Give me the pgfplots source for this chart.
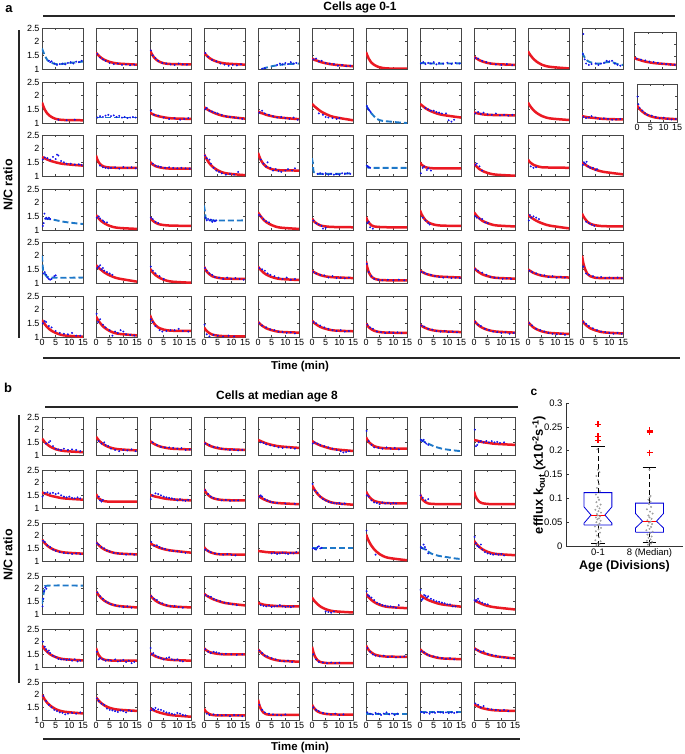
\documentclass[border=0pt]{standalone}
\usepackage{fontspec}
\setmainfont{Liberation Sans}
\usepackage{pgfplots}
\pgfplotsset{compat=1.18}
\definecolor{fitred}{RGB}{235,25,35}
\definecolor{dotblue}{RGB}{20,20,235}
\definecolor{dashcyan}{RGB}{30,120,200}
\definecolor{framegray}{RGB}{70,70,70}
\pgfplotsset{
 panel/.style={scale only axis, anchor=north west, xmin=0,xmax=15,ymin=1,ymax=2.5,
  xtick={0,5,10,15}, ytick={1,1.5,2,2.5}, xticklabels={}, yticklabels={},
  tick align=inside, major tick length=2bp,
  axis line style={framegray,line width=0.75bp},
  every tick/.style={framegray,line width=0.4bp},
  /pgf/number format/assume math mode=true,
  tick label style={font=\fontsize{9}{9}\selectfont},
  yticklabel style={xshift=1bp}, xticklabel style={yshift=1bp},
  clip=true},
 yl/.style={yticklabels={1,1.5,2,2.5}},
 xl/.style={xticklabels={0,5,10,15}},
}
\newcommand{\Rf}[8]{\addplot[fitred,line width=2.5bp,smooth] coordinates {(0,#1)(0.5,#2)(1,#3)(2,#4)(3,#5)(5,#6)(8,#7)(15,#8)};}
\newcommand{\Dt}[1]{\addplot[only marks,mark=*,mark size=0.75bp,dotblue] coordinates {#1};}
\newcommand{\Cy}[1]{\addplot[dashcyan,line width=1.9bp,dash pattern=on 6bp off 3bp,smooth] coordinates {#1};}
\newcommand{\Pa}[4]{\begin{axis}[panel,at={(#1bp,-#2bp)},width=41bp,height=41bp,#3]#4\end{axis}}
\newcommand{\Pb}[4]{\begin{axis}[panel,at={(#1bp,-#2bp)},width=41bp,height=38bp,#3]#4\end{axis}}
\begin{document}
\begin{tikzpicture}
\useasboundingbox (0,0) rectangle (685bp,-754bp);
% ================= panel a =================
\node[font=\bfseries\fontsize{13}{13}\selectfont] at (9bp,-9bp) {a};
\node[font=\bfseries\fontsize{12}{12}\selectfont] at (360bp,-7bp) {Cells age 0-1};
\draw[line width=1.5bp,black!85] (43bp,-16bp) -- (675bp,-16bp);
\draw[line width=1.5bp,black!85] (19bp,-30bp) -- (19bp,-338bp);
\node[rotate=90,font=\bfseries\fontsize{12.5}{12.5}\selectfont] at (8bp,-185bp) {N/C ratio};
\draw[line width=1.5bp,black!85] (43bp,-358bp) -- (680bp,-358bp);
\node[font=\bfseries\fontsize{11.5}{11.5}\selectfont] at (300bp,-367bp) {Time (min)};
% row 1
\Pa{42}{28}{yl}{\Cy{(0,1.75)(0.5,1.62)(1,1.5)(2,1.32)(3,1.25)(5,1.18)(7,1.18)(10,1.22)(15,1.27)}\Dt{(2.5,1.3)(3,1.25)(3.5,1.28)(4.5,1.2)(5.5,1.15)(6.5,1.18)(7.5,1.2)(8.5,1.17)(9.5,1.22)(10.5,1.25)(11.5,1.2)(12.5,1.27)(13.5,1.25)(14.5,1.3)}}
\Pa{96}{28}{}{\Rf{1.6}{1.54}{1.49}{1.40}{1.34}{1.26}{1.20}{1.16}\Dt{(0.5,1.55)(1.5,1.42)(2.5,1.35)(3.5,1.3)(5,1.22)(6.5,1.18)(8,1.2)(9.5,1.15)(11,1.17)(12.5,1.14)(14,1.16)}}
\Pa{150}{28}{}{\Rf{1.7}{1.58}{1.49}{1.37}{1.29}{1.21}{1.18}{1.17}\Dt{(0.3,1.68)(1,1.5)(2,1.4)(3,1.3)(4.5,1.22)(6,1.2)(7.5,1.17)(9,1.15)(10.5,1.2)(12,1.17)(13.5,1.16)}}
\Pa{204}{28}{}{\Rf{1.6}{1.54}{1.49}{1.40}{1.34}{1.26}{1.20}{1.16}\Dt{(0.5,1.58)(1.5,1.45)(3,1.33)(4.5,1.28)(6,1.2)(7.5,1.16)(9,1.12)(10.5,1.15)(12,1.13)(13.5,1.17)}}
\Pa{258}{28}{}{\Cy{(1.5,1.0)(3,1.05)(5,1.1)(8,1.15)(11,1.18)(15,1.2)}\Dt{(1.5,1.01)(2.5,1.03)(7,1.15)(8,1.2)(9,1.17)(10,1.22)(11,1.18)(12,1.25)(13,1.2)(14,1.22)}}
\Pa{312}{28}{}{\Rf{1.38}{1.36}{1.33}{1.30}{1.26}{1.21}{1.16}{1.10}\Dt{(0.5,1.35)(1.5,1.38)(2.5,1.28)(3.5,1.3)(5,1.22)(6.5,1.2)(8,1.18)(9.5,1.12)(11,1.15)(12.5,1.1)(14,1.12)}}
\Pa{366}{28}{}{\Rf{1.62}{1.49}{1.38}{1.23}{1.15}{1.06}{1.02}{1.01}}
\Pa{420}{28}{}{\Cy{(0,1.22)(5,1.2)(10,1.2)(15,1.21)}\Dt{(0.3,1.2)(1.2,1.25)(2,1.18)(3,1.22)(4,1.2)(5,1.25)(6,1.17)(7,1.22)(8.5,1.2)(10,1.23)(11.5,1.19)(13,1.22)(14.5,1.2)}}
\Pa{474}{28}{}{\Rf{1.45}{1.41}{1.38}{1.32}{1.28}{1.22}{1.18}{1.15}\Dt{(0.5,1.4)(1.5,1.38)(3,1.3)(4.5,1.25)(6,1.2)(8,1.17)(10,1.15)(12,1.18)(14,1.14)}}
\Pa{528}{28}{}{\Rf{1.65}{1.56}{1.49}{1.37}{1.28}{1.16}{1.08}{1.02}}
\Pa{582}{28}{}{\Cy{(0,1.6)(0.5,1.5)(1,1.42)(2,1.3)(3,1.25)(5,1.2)(7,1.2)(9,1.25)(11,1.25)(13,1.18)(15,1.15)}\Dt{(0.5,2.28)(0.3,1.55)(1,1.35)(1.5,1.2)(2.5,1.15)(3.5,1.18)(5,1.2)(6,1.15)(7,1.2)(8,1.22)(9,1.3)(10,1.28)(11,1.3)(12,1.2)(13,1.15)(14,1.12)}}
\begin{axis}[panel,at={(634bp,-32bp)},width=42bp,height=37bp]
\Rf{1.45}{1.43}{1.40}{1.37}{1.33}{1.28}{1.23}{1.17}\Dt{(1,1.42)(2.5,1.38)(4,1.35)(5.5,1.3)(7,1.28)(8.5,1.25)(10,1.22)(11.5,1.2)(13,1.18)(14.5,1.17)}
\end{axis}
% row 2
\Pa{42}{82}{yl}{\Rf{1.75}{1.61}{1.49}{1.34}{1.25}{1.15}{1.11}{1.10}\Dt{(6,1.12)(9,1.1)(12,1.12)}}
\Pa{96}{82}{}{\Cy{(0,1.2)(15,1.2)}\Dt{(0.5,1.2)(1.5,1.25)(2.5,1.22)(3.5,1.27)(4.5,1.3)(5.5,1.25)(6.5,1.28)(7.5,1.22)(8.5,1.26)(9.5,1.2)(10.5,1.22)(11.5,1.18)(12.5,1.2)(13.5,1.22)(14.5,1.2)}}
\Pa{150}{82}{}{\Rf{1.38}{1.35}{1.32}{1.28}{1.25}{1.21}{1.17}{1.15}\Dt{(0.3,1.45)(1.5,1.3)(3,1.27)(5,1.2)(7,1.15)(9,1.17)(11,1.12)(12.5,1.15)(14,1.18)}}
\Pa{204}{82}{}{\Rf{1.58}{1.54}{1.51}{1.45}{1.40}{1.32}{1.24}{1.16}\Dt{(0.5,1.5)(1,1.55)(2,1.45)(3,1.42)(4,1.38)(5,1.35)(6.5,1.3)(8,1.25)(9.5,1.22)(11,1.2)(12.5,1.18)(14,1.15)}}
\Pa{258}{82}{}{\Rf{1.42}{1.40}{1.37}{1.34}{1.30}{1.25}{1.20}{1.14}\Dt{(0.5,1.38)(1.5,1.45)(2.5,1.35)(4,1.3)(5.5,1.25)(7,1.2)(8.5,1.22)(10,1.18)(11.5,1.15)(13,1.2)(14.5,1.12)}}
\Pa{312}{82}{}{\Rf{1.7}{1.65}{1.60}{1.52}{1.44}{1.33}{1.22}{1.10}\Dt{(2.5,1.35)(4,1.3)(5,1.22)(6,1.2)(7.5,1.18)(9,1.15)(10,1.18)}}
\Pa{366}{82}{}{\Cy{(0,1.65)(1,1.48)(2,1.35)(4,1.15)(6,1.08)(9,1.05)(12,1.02)(15,1.0)}\Dt{(0.3,1.62)(0.6,1.55)(1,1.5)(1.3,1.45)(1.7,1.4)}}
\Pa{420}{82}{}{\Rf{1.7}{1.66}{1.62}{1.54}{1.48}{1.39}{1.30}{1.20}\Dt{(2,1.55)(3,1.5)(4,1.45)(5,1.45)(6,1.4)(7,1.38)(8,1.35)(9.5,1.35)(10.5,1.1)(11.5,1.05)(12.5,1.12)}}
\Pa{474}{82}{}{\Rf{1.38}{1.37}{1.36}{1.34}{1.32}{1.30}{1.29}{1.28}\Dt{(0.5,1.35)(1.5,1.4)(2.5,1.33)(3.5,1.38)(5,1.32)(6.5,1.3)(8,1.35)(9.5,1.28)(11,1.3)(12.5,1.27)(14,1.3)}}
\Pa{528}{82}{}{\Rf{1.75}{1.66}{1.59}{1.47}{1.38}{1.26}{1.17}{1.11}}
\Pa{582}{82}{}{\Rf{1.25}{1.24}{1.23}{1.21}{1.20}{1.18}{1.15}{1.13}\Dt{(0.5,1.22)(1.5,1.18)(2.5,1.2)(3.5,1.25)(5,1.2)(6.5,1.15)(8,1.17)(9.5,1.15)(11,1.12)(12.5,1.13)(14,1.15)}}
\begin{axis}[panel,xl,at={(637bp,-84bp)},width=40bp,height=38bp]
\Rf{1.65}{1.58}{1.51}{1.41}{1.33}{1.23}{1.16}{1.11}\Dt{(0.2,2.0)(0.5,1.7)(1,1.55)(2,1.45)(3,1.35)(4,1.28)(5.5,1.25)(7,1.2)(8.5,1.15)(10,1.17)(11.5,1.12)(13,1.1)(14.5,1.12)}
\end{axis}
% row 3
\Pa{42}{135}{yl}{\Rf{1.70}{1.67}{1.65}{1.60}{1.56}{1.50}{1.44}{1.38}\Dt{(0.3,1.6)(1,1.68)(2,1.65)(3,1.6)(4,1.7)(5,1.62)(5.5,1.78)(6,1.75)(7,1.55)(8,1.5)(9,1.45)(10.5,1.45)(12,1.42)(13.5,1.43)(14.5,1.4)}}
\Pa{96}{135}{}{\Rf{1.75}{1.60}{1.50}{1.39}{1.34}{1.31}{1.30}{1.30}\Dt{(1.5,1.38)(2.5,1.32)(3.5,1.3)(4.5,1.28)(5.5,1.3)(7,1.32)(8.5,1.27)(10,1.33)(11.5,1.3)(13,1.32)(14.5,1.28)}}
\Pa{150}{135}{}{\Rf{1.52}{1.46}{1.42}{1.36}{1.33}{1.29}{1.27}{1.27}\Dt{(1,1.45)(2,1.38)(3,1.35)(4,1.33)(5.5,1.3)(7,1.32)(8.5,1.3)(10,1.28)(11.5,1.3)(13,1.28)(14.5,1.27)}}
\Pa{204}{135}{}{\Rf{1.8}{1.70}{1.61}{1.46}{1.35}{1.21}{1.10}{1.03}\Dt{(0.3,1.75)(1,1.65)(2,1.6)(2.5,1.45)(3.5,1.3)(4.5,1.2)(5.5,1.15)(6.5,1.1)(8,1.05)(9.5,1.08)(11,1.05)(12.5,1.15)}}
\Pa{258}{135}{}{\Rf{1.85}{1.71}{1.59}{1.44}{1.34}{1.25}{1.21}{1.20}\Dt{(1,1.6)(2,1.45)(3,1.35)(3.5,1.5)(4.5,1.3)(5.5,1.2)(6.5,1.25)(7.5,1.18)(8.5,1.15)(10,1.2)(11,1.25)(12.5,1.2)(13.5,1.28)}}
\Pa{312}{135}{}{\Cy{(0,1.65)(0.3,1.45)(0.6,1.15)(1.5,1.08)(5,1.08)(10,1.08)(15,1.1)}\Dt{(2,1.08)(3,1.1)(4,1.07)(5,1.1)(6,1.05)(7,1.08)(8,1.05)(9,1.07)(10,1.05)(11,1.1)(12,1.08)(13,1.1)(14,1.08)}}
\Pa{366}{135}{}{\Cy{(0,1.38)(1,1.32)(2,1.3)(15,1.3)}\Dt{(0.3,1.38)(0.7,1.35)(1,1.32)(1.5,1.3)}}
\Pa{420}{135}{}{\Rf{1.5}{1.42}{1.38}{1.32}{1.30}{1.28}{1.28}{1.28}\Dt{(0.3,1.1)(1,1.3)(1.5,1.35)(2.5,1.22)(3,1.28)(4,1.2)}}
\Pa{474}{135}{}{\Rf{1.45}{1.39}{1.34}{1.25}{1.19}{1.11}{1.05}{1.01}\Dt{(0.5,1.4)(1,1.45)(2,1.35)(3,1.2)}}
\Pa{528}{135}{}{\Rf{1.6}{1.53}{1.48}{1.41}{1.37}{1.32}{1.31}{1.30}\Dt{(1,1.35)(2,1.3)(3,1.32)}}
\Pa{582}{135}{}{\Rf{1.5}{1.46}{1.43}{1.36}{1.31}{1.23}{1.15}{1.06}\Dt{(0.3,1.4)(0.7,1.5)(1.2,1.45)(1.7,1.52)(2.3,1.35)(3,1.3)(4,1.3)(5,1.22)(5.5,1.25)}}
% row 4
\Pa{42}{189}{yl}{\Cy{(1,1.42)(4,1.38)(8,1.3)(12,1.25)(15,1.22)}\Dt{(0.3,1.15)(0.6,1.25)(0.9,1.6)(1.2,1.42)(1.6,1.45)(2,1.4)(2.5,1.45)(3,1.4)}}
\Pa{96}{189}{}{\Rf{1.55}{1.48}{1.42}{1.32}{1.25}{1.15}{1.08}{1.04}\Dt{(0.3,1.45)(1,1.5)(1.5,1.42)(2.5,1.35)(3,1.3)(4,1.28)}}
\Pa{150}{189}{}{\Rf{1.47}{1.40}{1.34}{1.27}{1.22}{1.18}{1.16}{1.15}\Dt{(0.3,1.45)(1,1.4)(2,1.3)(3,1.25)}}
\Pa{204}{189}{}{\Cy{(0,1.9)(0.3,1.7)(0.6,1.45)(1,1.38)(3,1.35)(15,1.35)}\Dt{(0.5,1.45)(1,1.35)(1.5,1.4)(2,1.35)(2.5,1.38)(3,1.3)(3.5,1.35)(4,1.32)(4.5,1.35)}}
\Pa{258}{189}{}{\Rf{1.65}{1.57}{1.50}{1.38}{1.29}{1.18}{1.09}{1.04}\Dt{(0.3,1.55)(1,1.5)(2,1.4)(3,1.32)(4,1.28)}}
\Pa{312}{189}{}{\Rf{1.42}{1.35}{1.29}{1.22}{1.17}{1.13}{1.11}{1.10}\Dt{(0.5,1.35)(1.5,1.25)(2.5,1.2)(3.5,1.15)(4,1.05)(5,1.08)}}
\Pa{366}{189}{}{\Rf{1.48}{1.35}{1.27}{1.17}{1.13}{1.11}{1.10}{1.10}\Dt{(0.5,1.25)(1,1.3)(1.5,1.1)(2.5,1.05)}}
\Pa{420}{189}{}{\Rf{1.72}{1.59}{1.50}{1.36}{1.28}{1.20}{1.16}{1.15}\Dt{(1,1.45)(2,1.35)(3,1.25)(3.5,1.2)}}
\Pa{474}{189}{}{\Rf{1.65}{1.58}{1.52}{1.42}{1.34}{1.25}{1.17}{1.13}\Dt{(0.5,1.5)(1,1.45)(2,1.42)(3,1.4)(4,1.28)(5,1.25)}}
\Pa{528}{189}{}{\Rf{1.55}{1.51}{1.47}{1.40}{1.34}{1.25}{1.16}{1.06}\Dt{(0.3,1.35)(0.7,1.55)(1.2,1.45)(2,1.5)(3,1.45)(4,1.4)}}
\Pa{582}{189}{}{\Rf{1.6}{1.50}{1.42}{1.30}{1.23}{1.17}{1.14}{1.13}\Dt{(1.5,1.3)(2.5,1.25)(3.5,1.2)(4.5,1.15)}}
% row 5
\Pa{42}{242}{yl}{\Cy{(0,2.0)(0.2,1.7)(0.5,1.4)(1,1.35)(3,1.2)(15,1.2)}\Dt{(0.5,1.35)(1,1.4)(1.5,1.3)(2,1.2)(2.5,1.15)(3,1.12)(3.5,1.15)(4.5,1.25)(5,1.28)}}
\Pa{96}{242}{}{\Rf{1.65}{1.60}{1.55}{1.47}{1.39}{1.28}{1.17}{1.05}\Dt{(0.5,1.55)(1,1.6)(1.5,1.65)(2,1.5)(2.5,1.55)(3,1.45)(4,1.4)(5,1.35)(6,1.3)}}
\Pa{150}{242}{}{\Rf{1.52}{1.45}{1.39}{1.29}{1.22}{1.12}{1.05}{1.01}\Dt{(0.3,1.6)(1,1.45)(2,1.35)(3.5,1.25)(5,1.15)}}
\Pa{204}{242}{}{\Rf{1.6}{1.50}{1.42}{1.32}{1.25}{1.19}{1.16}{1.15}\Dt{(0.3,1.55)(1,1.45)(2,1.35)(3,1.3)(4,1.22)(5.5,1.2)(7,1.15)(8.5,1.2)(10,1.15)(11.5,1.18)(13,1.15)(14.5,1.12)}}
\Pa{258}{242}{}{\Rf{1.6}{1.53}{1.48}{1.38}{1.31}{1.22}{1.15}{1.11}\Dt{(0.5,1.55)(1.5,1.5)(2.5,1.45)(3.5,1.35)(4.5,1.3)(6,1.25)(7.5,1.2)(9,1.15)(10.5,1.2)(12,1.12)(13.5,1.15)}}
\Pa{312}{242}{}{\Rf{1.45}{1.41}{1.38}{1.33}{1.29}{1.24}{1.21}{1.18}\Dt{(0.5,1.4)(1.5,1.35)(3,1.3)(4.5,1.28)(6,1.2)(7.5,1.25)(9,1.18)(10.5,1.2)(12,1.17)(13.5,1.2)}}
\Pa{366}{242}{}{\Rf{1.8}{1.56}{1.40}{1.23}{1.16}{1.11}{1.10}{1.10}\Dt{(0.3,1.7)(1,1.4)(2,1.25)(3,1.15)(4.5,1.12)(6,1.1)(8,1.12)(10,1.1)(12,1.12)(14,1.1)}}
\Pa{420}{242}{}{\Rf{1.45}{1.42}{1.39}{1.34}{1.31}{1.26}{1.23}{1.20}\Dt{(0.5,1.4)(1.5,1.38)(2.5,1.33)(4,1.3)(5.5,1.25)(7,1.22)(8.5,1.2)(10,1.22)(11.5,1.18)(13,1.2)(14.5,1.18)}}
\Pa{474}{242}{}{\Rf{1.55}{1.50}{1.45}{1.38}{1.32}{1.25}{1.19}{1.16}\Dt{(0.5,1.5)(1.5,1.45)(3,1.38)(4.5,1.3)(6,1.22)(7.5,1.2)(9,1.18)(10.5,1.15)(12,1.17)(13.5,1.15)}}
\Pa{528}{242}{}{\Rf{1.5}{1.46}{1.43}{1.37}{1.33}{1.27}{1.23}{1.20}\Dt{(0.5,1.45)(1.5,1.4)(3,1.35)(4.5,1.3)(6,1.28)(7.5,1.22)(9,1.25)(10.5,1.2)(12,1.22)(13.5,1.2)}}
\Pa{582}{242}{}{\Rf{2.0}{1.72}{1.54}{1.33}{1.25}{1.19}{1.18}{1.18}\Dt{(0.5,1.6)(1.5,1.35)(2.5,1.3)(4,1.25)(5.5,1.2)(7,1.22)(8.5,1.18)(10,1.2)(11.5,1.18)(13,1.2)(14.5,1.17)}}
% row 6
\Pa{42}{296}{yl,xl}{\Rf{1.62}{1.54}{1.47}{1.35}{1.26}{1.15}{1.06}{1.01}\Dt{(0.3,1.5)(1,1.58)(1.5,1.55)(2.5,1.4)(3.5,1.35)(5,1.22)(6.5,1.15)(8,1.12)(9.5,1.1)(11,1.15)(12.5,1.05)(14,1.05)}}
\Pa{96}{296}{xl}{\Rf{1.75}{1.66}{1.58}{1.45}{1.35}{1.22}{1.12}{1.06}\Dt{(0.2,1.85)(0.8,1.55)(1.5,1.65)(2.5,1.45)(3.5,1.35)(5,1.25)(6,1.05)(7,1.2)(8,1.15)(9,1.25)(10,1.2)(11,1.1)(12.5,1.08)(14,1.05)}}
\Pa{150}{296}{xl}{\Rf{1.8}{1.67}{1.57}{1.43}{1.35}{1.27}{1.23}{1.22}\Dt{(0.3,1.65)(1,1.55)(2,1.4)(3.5,1.25)(4.5,1.2)(6,1.22)(7.5,1.25)(9,1.25)(10.5,1.3)(12,1.22)(14,1.2)}}
\Pa{204}{296}{xl}{\Rf{1.35}{1.28}{1.22}{1.14}{1.09}{1.05}{1.03}{1.02}\Dt{(0.2,1.45)(1,1.1)(2,1.02)(3.5,1.08)(5,1.05)(7,1.02)(9,1.05)(11,1.02)}}
\Pa{258}{296}{xl}{\Rf{1.55}{1.50}{1.45}{1.38}{1.32}{1.25}{1.19}{1.16}\Dt{(0.5,1.5)(1.5,1.42)(3,1.35)(4.5,1.28)(6,1.25)(7.5,1.2)(9,1.18)(10.5,1.15)(12,1.17)(13.5,1.13)}}
\Pa{312}{296}{xl}{\Rf{1.6}{1.55}{1.50}{1.43}{1.37}{1.30}{1.24}{1.21}\Dt{(0.5,1.55)(1.5,1.5)(3,1.42)(4.5,1.35)(6,1.3)(7.5,1.25)(9,1.22)(10.5,1.25)(12,1.2)(13.5,1.22)}}
\Pa{366}{296}{xl}{\Rf{1.5}{1.42}{1.36}{1.28}{1.23}{1.18}{1.16}{1.15}\Dt{(0.5,1.45)(1.5,1.35)(2.5,1.3)(4,1.2)(5.5,1.18)(7,1.15)(8.5,1.18)(10,1.15)(11.5,1.17)(13,1.14)}}
\Pa{420}{296}{xl}{\Rf{1.45}{1.41}{1.38}{1.33}{1.29}{1.24}{1.21}{1.18}\Dt{(0.5,1.42)(1.5,1.38)(3,1.3)(4.5,1.27)(6,1.22)(7.5,1.2)(9,1.22)(10.5,1.18)(12,1.2)(13.5,1.17)}}
\Pa{474}{296}{xl}{\Rf{1.6}{1.54}{1.49}{1.40}{1.34}{1.26}{1.20}{1.16}\Dt{(0.5,1.55)(1.5,1.45)(2.5,1.4)(4,1.3)(5.5,1.25)(7,1.2)(8.5,1.18)(10,1.15)(11.5,1.17)(13,1.12)(14.5,1.15)}}
\Pa{528}{296}{xl}{\Rf{1.55}{1.49}{1.44}{1.35}{1.29}{1.21}{1.15}{1.11}\Dt{(0.5,1.5)(1.5,1.42)(3,1.3)(4.5,1.25)(6,1.2)(7.5,1.15)(9,1.12)(10.5,1.1)(12,1.12)(13.5,1.08)}}
\Pa{582}{296}{xl}{\Rf{1.6}{1.54}{1.48}{1.39}{1.32}{1.24}{1.17}{1.13}\Dt{(0.5,1.55)(1.5,1.48)(2.5,1.4)(4,1.32)(5.5,1.25)(7,1.2)(8.5,1.18)(10,1.15)(11.5,1.12)(13,1.15)(14.5,1.12)}}
% ================= panel b =================
\node[font=\bfseries\fontsize{13}{13}\selectfont] at (8bp,-388bp) {b};
\node[font=\bfseries\fontsize{12}{12}\selectfont] at (277bp,-396bp) {Cells at median age 8};
\draw[line width=1.5bp,black!85] (45bp,-407bp) -- (518bp,-407bp);
\draw[line width=1.5bp,black!85] (19bp,-415bp) -- (19bp,-683bp);
\node[rotate=90,font=\bfseries\fontsize{12.5}{12.5}\selectfont] at (8bp,-555bp) {N/C ratio};
\draw[line width=1.5bp,black!85] (43bp,-739bp) -- (520bp,-739bp);
\node[font=\bfseries\fontsize{11.5}{11.5}\selectfont] at (300bp,-748bp) {Time (min)};
% row 1
\Pb{42}{417}{yl}{\Rf{1.65}{1.58}{1.51}{1.41}{1.33}{1.23}{1.16}{1.11}\Dt{(1.5,1.45)(2.5,1.5)(3,1.55)(4,1.35)(5,1.25)(6,1.22)(7,1.2)(8,1.25)(9.5,1.2)(11,1.22)(12.5,1.2)(14,1.15)}}
\Pb{96}{417}{}{\Rf{1.72}{1.65}{1.58}{1.48}{1.40}{1.30}{1.23}{1.18}\Dt{(1,1.55)(2,1.45)(3,1.5)(3.5,1.4)(4.5,1.35)(5.5,1.25)(7,1.2)(8.5,1.15)(10,1.2)(11.5,1.18)(13,1.22)(14.5,1.15)}}
\Pb{150}{417}{}{\Rf{1.55}{1.51}{1.47}{1.41}{1.36}{1.30}{1.25}{1.22}\Dt{(1,1.5)(2.5,1.4)(4,1.32)(5.5,1.3)(7,1.3)(8.5,1.28)(10,1.25)(11.5,1.27)(13,1.2)(14.5,1.22)}}
\Pb{204}{417}{}{\Rf{1.5}{1.46}{1.43}{1.37}{1.33}{1.27}{1.23}{1.20}\Dt{(0.5,1.45)(2,1.4)(3.5,1.32)(5,1.3)(6.5,1.25)(8,1.22)(9.5,1.2)(11,1.22)(12.5,1.18)(14,1.2)}}
\Pb{258}{417}{}{\Rf{1.6}{1.57}{1.55}{1.50}{1.46}{1.40}{1.34}{1.28}\Dt{(1,1.5)(2,1.48)(3,1.42)(4.5,1.38)(6,1.35)(7.5,1.3)(9,1.28)(10.5,1.3)(12,1.28)(13.5,1.25)}}
\Pb{312}{417}{}{\Rf{1.55}{1.52}{1.48}{1.43}{1.38}{1.31}{1.23}{1.16}\Dt{(0.3,1.45)(1,1.5)(2,1.45)(3,1.4)(4.5,1.35)(6,1.3)(7.5,1.25)(9,1.2)(10.5,1.15)(11.5,1.1)(12.5,1.12)(13.5,1.15)}}
\Pb{366}{417}{}{\Rf{1.7}{1.60}{1.52}{1.42}{1.35}{1.29}{1.26}{1.25}\Dt{(0.2,1.95)(1,1.55)(2,1.4)(3,1.3)(4.5,1.28)(6,1.25)(7.5,1.3)(9,1.25)(10.5,1.28)(12,1.22)}}
\Pb{420}{417}{}{\Cy{(0,1.62)(2,1.5)(5,1.35)(8,1.25)(11,1.2)(15,1.15)}\Dt{(0.3,1.6)(0.8,1.55)(1.3,1.6)(1.8,1.5)(2.3,1.45)(3,1.4)}}
\Pb{474}{417}{}{\Rf{1.6}{1.58}{1.57}{1.54}{1.51}{1.48}{1.44}{1.40}\Dt{(0.3,2.0)(0.7,1.35)(1.2,1.4)(1.7,1.5)(2.5,1.55)(3.5,1.5)(4.5,1.55)(5.5,1.5)(6.5,1.55)(7.5,1.5)(8.5,1.52)(9.5,1.48)(11,1.5)}}
% row 2
\Pb{42}{470}{yl}{\Rf{1.62}{1.59}{1.57}{1.53}{1.49}{1.44}{1.38}{1.33}\Dt{(0.2,1.45)(1,1.6)(2,1.62)(3,1.58)(4,1.6)(5,1.55)(6,1.58)(7,1.5)(8,1.45)(9,1.42)(10,1.45)(11,1.4)(12,1.38)(13,1.42)(14,1.38)}}
\Pb{96}{470}{}{\Rf{1.55}{1.45}{1.38}{1.31}{1.27}{1.25}{1.25}{1.25}\Dt{(1,1.45)(1.5,1.3)(2,1.25)(2.5,1.32)}}
\Pb{150}{470}{}{\Rf{1.52}{1.50}{1.48}{1.45}{1.43}{1.38}{1.34}{1.30}\Dt{(0.3,1.35)(1,1.5)(2,1.58)(3,1.55)(4,1.5)(5,1.45)(6,1.42)(7,1.4)(8,1.38)(9,1.35)(10,1.3)(11,1.35)(12,1.3)(13,1.28)(14,1.32)}}
\Pb{204}{470}{}{\Rf{1.75}{1.65}{1.57}{1.47}{1.40}{1.34}{1.31}{1.30}\Dt{(0.5,1.7)(1.5,1.55)(2.5,1.45)(3.5,1.4)(5,1.35)(6.5,1.3)(8,1.32)(9.5,1.28)(11,1.3)(12.5,1.3)}}
\Pb{258}{470}{}{\Rf{1.5}{1.45}{1.41}{1.35}{1.30}{1.23}{1.19}{1.15}\Dt{(0.5,1.45)(1,1.5)(1.5,1.45)(2.5,1.35)(3.5,1.3)(4.5,1.25)(5.5,1.22)(7,1.2)(10,1.18)(13.5,1.17)}}
\Pb{312}{470}{}{\Rf{1.9}{1.80}{1.71}{1.56}{1.45}{1.31}{1.20}{1.13}\Dt{(0.2,1.95)(1,1.7)(2,1.6)(3,1.45)(4,1.35)(5,1.3)(6,1.25)(7,1.22)(8,1.2)(9,1.18)(10,1.2)(11,1.15)(12,1.18)}}
\Pb{366}{470}{}{\Rf{1.65}{1.55}{1.47}{1.35}{1.28}{1.22}{1.19}{1.18}\Dt{(0.3,1.5)(1,1.45)(2,1.3)(3,1.22)(4,1.2)(5,1.15)(6,1.22)(7,1.18)(8,1.2)(9,1.17)(10,1.2)(11,1.18)}}
\Pb{420}{470}{}{\Rf{1.55}{1.41}{1.32}{1.23}{1.18}{1.16}{1.15}{1.15}\Dt{(0.2,1.5)(1,1.4)(2,1.3)(3,1.35)}}
\Pb{474}{470}{}{\Rf{1.65}{1.48}{1.37}{1.24}{1.19}{1.16}{1.15}{1.15}}
% row 3
\Pb{42}{523}{yl}{\Rf{1.85}{1.77}{1.71}{1.60}{1.52}{1.42}{1.34}{1.29}\Dt{(0.3,1.8)(1,1.75)(2,1.62)(3,1.55)(4,1.45)(5,1.4)(6.5,1.35)(8,1.32)(9.5,1.3)(11,1.28)(12.5,1.3)(14,1.27)}}
\Pb{96}{523}{}{\Rf{1.75}{1.68}{1.63}{1.53}{1.46}{1.37}{1.30}{1.26}\Dt{(0.3,1.7)(1,1.65)(2,1.55)(3,1.5)(4,1.42)(5,1.38)(6.5,1.32)(8,1.3)(9.5,1.28)(11,1.25)(12.5,1.28)(14,1.25)}}
\Pb{150}{523}{}{\Rf{1.7}{1.67}{1.64}{1.59}{1.54}{1.47}{1.41}{1.33}\Dt{(0.5,1.75)(1.5,1.6)(2.5,1.62)(3.5,1.55)(4.5,1.5)(5.5,1.48)(7,1.42)(8.5,1.4)(10,1.38)(11.5,1.35)(13,1.32)}}
\Pb{204}{523}{}{\Rf{1.55}{1.48}{1.43}{1.36}{1.32}{1.27}{1.26}{1.25}\Dt{(0.5,1.45)(1.5,1.4)(2.5,1.35)(4,1.3)(5.5,1.28)(7,1.25)(8.5,1.27)(10,1.25)(11.5,1.22)}}
\Pb{258}{523}{}{\Rf{1.4}{1.39}{1.38}{1.37}{1.35}{1.34}{1.33}{1.32}\Dt{(5,1.3)(6,1.32)(7,1.28)(8,1.3)(9,1.33)(10,1.3)(11,1.28)(12,1.32)(13,1.3)(14,1.35)}}
\Pb{312}{523}{}{\Cy{(0,1.5)(15,1.5)}\Dt{(0.3,1.5)(1,1.48)(1.5,1.45)(2,1.55)(2.5,1.58)(3,1.5)(3.5,1.52)}}
\Pb{366}{523}{}{\Rf{2.05}{1.91}{1.79}{1.60}{1.46}{1.27}{1.13}{1.03}\Dt{(0.2,2.2)(3.5,1.25)}}
\Pb{420}{523}{}{\Cy{(0,1.55)(2,1.45)(4,1.3)(7,1.2)(10,1.15)(13,1.1)(15,1.08)}\Dt{(0.3,1.55)(0.8,1.5)(1.3,1.65)(1.8,1.55)(2.2,1.45)(3,1.3)}}
\Pb{474}{523}{}{\Rf{1.8}{1.72}{1.66}{1.55}{1.47}{1.36}{1.28}{1.23}\Dt{(0.2,1.95)(0.7,1.7)(1.2,1.6)(1.8,1.55)(2.5,1.65)(3,1.45)(4,1.35)(5,1.3)(6,1.28)(7,1.25)(8,1.28)(9,1.25)(10,1.28)(11,1.22)}}
% row 4
\Pb{42}{576}{yl}{\Cy{(0,1.4)(0.5,1.75)(1,2.0)(2,2.12)(15,2.12)}\Dt{(0.2,1.3)(0.5,1.6)(0.8,1.9)(1.2,2.05)(1.6,2.0)}}
\Pb{96}{576}{}{\Rf{1.9}{1.81}{1.74}{1.62}{1.53}{1.41}{1.32}{1.26}\Dt{(0.5,1.85)(1.5,1.7)(2.5,1.6)(3.5,1.5)(4.5,1.45)(5.5,1.38)(7,1.35)(8.5,1.3)(10,1.28)(11.5,1.3)(13,1.25)}}
\Pb{150}{576}{}{\Rf{1.75}{1.68}{1.63}{1.53}{1.46}{1.37}{1.30}{1.26}\Dt{(0.5,1.7)(1.5,1.6)(2.5,1.55)(3.5,1.45)(4.5,1.42)(6,1.35)(7.5,1.3)(9,1.32)(10.5,1.28)(12,1.25)}}
\Pb{204}{576}{}{\Rf{1.8}{1.76}{1.72}{1.66}{1.60}{1.52}{1.43}{1.34}\Dt{(0.5,1.75)(1.5,1.7)(2.5,1.68)(3.5,1.6)(4.5,1.55)(6,1.5)(7.5,1.45)(9,1.42)(10.5,1.38)(12,1.35)}}
\Pb{258}{576}{}{\Rf{1.45}{1.42}{1.40}{1.37}{1.35}{1.33}{1.31}{1.30}\Dt{(1,1.35)(2,1.32)(3,1.3)(4,1.33)(5,1.28)(6,1.3)(7,1.32)(8,1.35)(9,1.3)(10,1.28)(11,1.3)(12,1.27)(13,1.3)}}
\Pb{312}{576}{}{\Rf{1.65}{1.57}{1.50}{1.39}{1.30}{1.19}{1.11}{1.06}\Dt{(5,1.1)(6,1.08)(7,1.05)(8,1.1)}}
\Pb{366}{576}{}{\Rf{1.8}{1.72}{1.66}{1.55}{1.47}{1.36}{1.28}{1.23}\Dt{(0.2,1.9)(0.7,1.75)(1.2,1.7)(2,1.65)(3,1.55)(4,1.45)(5,1.4)(6,1.35)(7,1.33)(8,1.3)(9,1.3)(10,1.28)(11,1.25)(12,1.35)}}
\Pb{420}{576}{}{\Rf{1.75}{1.71}{1.67}{1.61}{1.55}{1.47}{1.38}{1.29}\Dt{(0.2,1.95)(0.6,1.55)(1,1.6)(1.5,1.75)(2,1.72)(2.5,1.65)(3,1.7)(4,1.6)(5,1.55)(6,1.5)(7,1.48)(8,1.45)(9,1.42)(10,1.38)(11,1.38)(12,1.3)(13,1.3)}}
\Pb{474}{576}{}{\Rf{1.55}{1.52}{1.49}{1.44}{1.39}{1.32}{1.26}{1.18}\Dt{(0.2,1.55)(0.6,1.5)(1,1.55)(1.5,1.6)(2,1.5)(3,1.45)(4,1.4)(5,1.38)}}
% row 5
\Pb{42}{629}{yl}{\Rf{1.85}{1.77}{1.70}{1.59}{1.50}{1.39}{1.31}{1.26}\Dt{(0.3,2.0)(1,1.8)(1.5,1.7)(2,1.6)(2.5,1.65)(3,1.55)(4,1.45)(5,1.4)(6,1.32)(7,1.3)(8,1.3)(9,1.28)(10,1.3)(11,1.25)(12,1.3)(13,1.22)(14,1.25)}}
\Pb{96}{629}{}{\Rf{1.75}{1.58}{1.47}{1.34}{1.29}{1.26}{1.25}{1.25}\Dt{(0.3,1.6)(1,1.3)(1.5,1.35)(2.5,1.3)(3.5,1.25)(4.5,1.28)(5.5,1.25)(7,1.3)(8,1.22)(9,1.25)(10,1.28)(11,1.2)(12,1.25)(13,1.15)(14,1.2)}}
\Pb{150}{629}{}{\Rf{1.55}{1.51}{1.48}{1.42}{1.38}{1.32}{1.28}{1.25}\Dt{(0.2,1.75)(0.6,1.5)(1.2,1.55)(2,1.45)(3,1.4)(4,1.35)(5,1.3)(6,1.35)(7,1.38)(8,1.3)(9,1.28)(10,1.3)(11,1.25)(12,1.22)}}
\Pb{204}{629}{}{\Rf{1.75}{1.69}{1.65}{1.59}{1.56}{1.52}{1.50}{1.50}\Dt{(0.5,1.7)(1.5,1.6)(2.5,1.55)(3.5,1.6)(4.5,1.58)(5.5,1.55)(6.5,1.5)(8,1.52)(10,1.5)(12,1.48)(14,1.5)}}
\Pb{258}{629}{}{\Rf{1.7}{1.63}{1.58}{1.48}{1.41}{1.32}{1.25}{1.21}\Dt{(0.5,1.65)(1.5,1.55)(2.5,1.45)(3.5,1.42)(5,1.35)(6.5,1.3)(8,1.25)(9.5,1.22)(11,1.25)(12.5,1.2)}}
\Pb{312}{629}{}{\Rf{1.8}{1.58}{1.43}{1.27}{1.20}{1.16}{1.15}{1.15}\Dt{(0.5,1.5)(1.5,1.3)(2.5,1.2)(4,1.18)(5.5,1.15)(7,1.18)(8.5,1.15)(10,1.17)}}
\Pb{366}{629}{}{\Rf{1.85}{1.75}{1.67}{1.57}{1.50}{1.44}{1.41}{1.40}\Dt{(0.5,1.75)(1.5,1.6)(2.5,1.5)(3.5,1.45)(5,1.42)(6.5,1.45)(8,1.4)(9.5,1.42)(11,1.38)(12.5,1.4)(14,1.42)}}
\Pb{420}{629}{}{\Rf{1.7}{1.65}{1.60}{1.53}{1.47}{1.40}{1.34}{1.31}\Dt{(0.5,1.62)(1.5,1.58)(2.5,1.5)(3.5,1.45)(5,1.42)(6.5,1.38)(8,1.35)(9.5,1.32)(11,1.35)(12.5,1.3)}}
\Pb{474}{629}{}{\Rf{1.75}{1.71}{1.68}{1.62}{1.57}{1.50}{1.42}{1.34}\Dt{(0.5,1.7)(1.5,1.65)(2.5,1.6)(3.5,1.62)(5,1.52)(6.5,1.48)(8,1.45)(9.5,1.4)(11,1.38)(12.5,1.35)}}
% row 6
\Pb{42}{682}{yl,xl}{\Rf{2.0}{1.90}{1.81}{1.67}{1.57}{1.43}{1.33}{1.26}\Dt{(0.5,1.95)(1.5,1.75)(2.5,1.6)(3.5,1.5)(4.5,1.4)(5.5,1.35)(6.5,1.3)(7.5,1.28)(8.5,1.22)(9.5,1.25)(11,1.28)(12.5,1.25)(14,1.3)}}
\Pb{96}{682}{xl}{\Rf{1.9}{1.83}{1.76}{1.66}{1.58}{1.48}{1.41}{1.36}\Dt{(0.3,1.85)(1,1.75)(2,1.65)(3,1.6)(4,1.45)(5,1.4)(6,1.38)(7,1.35)(8,1.32)(9,1.38)(10,1.35)(11,1.3)(12,1.38)(13,1.35)}}
\Pb{150}{682}{xl}{\Rf{1.45}{1.42}{1.40}{1.35}{1.31}{1.25}{1.19}{1.13}\Dt{(0.3,1.38)(1,1.45)(1.5,1.4)(2,1.48)(3,1.42)(4,1.4)(5,1.35)(6,1.3)(7,1.28)(8,1.25)(9,1.22)(10,1.28)(11,1.25)(12,1.2)(13,1.18)}}
\Pb{204}{682}{xl}{\Rf{1.45}{1.36}{1.30}{1.23}{1.20}{1.18}{1.18}{1.18}\Dt{(1,1.25)(2,1.2)(3.5,1.22)(5,1.2)(6.5,1.18)(8,1.2)(9.5,1.15)(11,1.2)(12.5,1.18)(14,1.15)}}
\Pb{258}{682}{xl}{\Rf{1.8}{1.58}{1.45}{1.29}{1.23}{1.20}{1.20}{1.20}\Dt{(0.5,1.6)(1.5,1.4)(2.5,1.3)(4,1.25)(5.5,1.22)(7,1.2)(8.5,1.18)(10,1.22)}}
\Pb{312}{682}{xl}{\Rf{1.6}{1.51}{1.44}{1.34}{1.29}{1.24}{1.22}{1.21}\Dt{(0.5,1.5)(1.5,1.4)(2.5,1.35)(4,1.28)(5.5,1.25)(7,1.22)(8.5,1.25)(10,1.2)(11.5,1.22)}}
\Pb{366}{682}{xl}{\Cy{(0,1.25)(15,1.25)}\Dt{(0.5,1.3)(1.5,1.25)(2.5,1.22)(3.5,1.28)(4.5,1.25)(5.5,1.2)(6.5,1.25)(7.5,1.3)(8.5,1.22)(9.5,1.25)(10.5,1.2)(11.5,1.25)}}
\Pb{420}{682}{xl}{\Cy{(0,1.3)(15,1.3)}\Dt{(0.5,1.32)(1.5,1.28)(2.5,1.3)(3.5,1.25)(4.5,1.3)(5.5,1.28)(6.5,1.32)(7.5,1.3)(8.5,1.28)(9.5,1.3)(10.5,1.27)(11.5,1.3)(12.5,1.28)(13.5,1.3)}}
\Pb{474}{682}{xl}{\Rf{1.62}{1.59}{1.56}{1.51}{1.47}{1.42}{1.38}{1.36}\Dt{(0.5,1.65)(1.5,1.6)(2.5,1.5)(3.5,1.55)(5,1.45)(6.5,1.42)(8,1.4)(9.5,1.38)(11,1.4)(12.5,1.35)}}
% ================= panel c =================
\node[font=\bfseries\fontsize{12}{12}\selectfont] at (534bp,-392bp) {c};
\node[rotate=90,font=\bfseries\fontsize{13}{13}\selectfont] at (539bp,-475bp) {efflux k\textsubscript{out} (x10\textsuperscript{-2}s\textsuperscript{-1})};
\begin{axis}[at={(566bp,-546bp)},anchor=south west,scale only axis,width=117bp,height=143bp,
 xmin=0.38,xmax=2.65,ymin=0,ymax=0.3,
 axis x line*=bottom, axis y line*=left,
 axis line style={black!80,line width=0.6bp},
 xtick={1,2}, xticklabels={0-1,8 (Median)},
 ytick={0,0.05,0.1,0.15,0.2,0.25,0.3}, yticklabels={0,0.05,0.1,0.15,0.2,0.25,0.3},
 tick align=inside, major tick length=3bp, every tick/.style={black!80,line width=0.5bp},
 tick label style={font=\fontsize{9.5}{9.5}\selectfont},
 xticklabel style={yshift=1bp},
 xlabel={Age (Divisions)}, xlabel style={font=\bfseries\fontsize{12.5}{12.5}\selectfont,yshift=4bp},
 clip=false]
% box 1
\addplot[blue!85!black,line width=0.8bp] coordinates {(0.73,0.044)(1.27,0.044)(1.27,0.048)(1.135,0.065)(1.27,0.082)(1.27,0.112)(0.73,0.112)(0.73,0.082)(0.865,0.065)(0.73,0.048)(0.73,0.044)};
\addplot[black,line width=0.6bp,dash pattern=on 5bp off 3bp] coordinates {(1,0.112)(1,0.21)};
\addplot[black,line width=0.6bp,dash pattern=on 5bp off 3bp] coordinates {(1,0.044)(1,0.006)};
\addplot[black,line width=0.8bp] coordinates {(0.865,0.21)(1.135,0.21)};
\addplot[black,line width=0.8bp] coordinates {(0.865,0.006)(1.135,0.006)};
% box 2
\addplot[blue!85!black,line width=0.8bp] coordinates {(1.73,0.029)(2.27,0.029)(2.27,0.038)(2.135,0.052)(2.27,0.068)(2.27,0.09)(1.73,0.09)(1.73,0.068)(1.865,0.052)(1.73,0.038)(1.73,0.029)};
\addplot[black,line width=0.6bp,dash pattern=on 5bp off 3bp] coordinates {(2,0.09)(2,0.165)};
\addplot[black,line width=0.6bp,dash pattern=on 5bp off 3bp] coordinates {(2,0.029)(2,0.008)};
\addplot[black,line width=0.8bp] coordinates {(1.865,0.165)(2.135,0.165)};
\addplot[black,line width=0.8bp] coordinates {(1.865,0.008)(2.135,0.008)};
% grey data points
\addplot[only marks,mark=*,mark size=0.75bp,gray!75] coordinates {(0.97,0.002)(1.03,0.004)(0.99,0.006)(1.05,0.01)(0.95,0.012)(1.02,0.018)(0.98,0.022)(1.04,0.028)(0.96,0.031)(1.01,0.035)(1.06,0.038)(0.94,0.041)(1.0,0.044)(1.03,0.047)(0.97,0.05)(1.05,0.053)(0.99,0.056)(1.02,0.058)(0.96,0.06)(1.04,0.062)(1.0,0.064)(0.98,0.067)(1.06,0.07)(1.01,0.073)(0.95,0.076)(1.03,0.079)(0.99,0.083)(1.05,0.087)(0.97,0.092)(1.02,0.097)(1.0,0.102)(0.96,0.108)(1.04,0.115)(0.98,0.122)(1.02,0.13)(1.0,0.138)(0.97,0.147)(1.03,0.155)(1.0,0.16)(0.99,0.203)};
\addplot[only marks,mark=*,mark size=0.75bp,gray!75] coordinates {(1.97,0.003)(2.03,0.005)(1.99,0.007)(2.05,0.009)(1.95,0.011)(2.02,0.014)(1.98,0.017)(2.04,0.02)(1.96,0.024)(2.01,0.027)(2.06,0.03)(1.94,0.033)(2.0,0.036)(2.03,0.04)(1.97,0.043)(2.05,0.046)(1.99,0.049)(2.02,0.051)(1.96,0.054)(2.04,0.057)(2.0,0.06)(1.98,0.064)(2.06,0.068)(2.01,0.072)(1.95,0.077)(2.03,0.082)(1.99,0.088)(2.02,0.093)(1.98,0.097)(2.0,0.102)(2.02,0.105)(2.0,0.16)};
% medians
\addplot[red,line width=1bp] coordinates {(0.865,0.065)(1.135,0.065)};
\addplot[red,line width=1bp] coordinates {(1.865,0.052)(2.135,0.052)};
% outliers
\addplot[only marks,mark=+,mark size=3bp,mark options={red,line width=1.2bp}] coordinates {(1,0.255)(1,0.23)(1,0.222)(2,0.243)(2,0.239)(2,0.196)};
\end{axis}
\end{tikzpicture}
\end{document}
